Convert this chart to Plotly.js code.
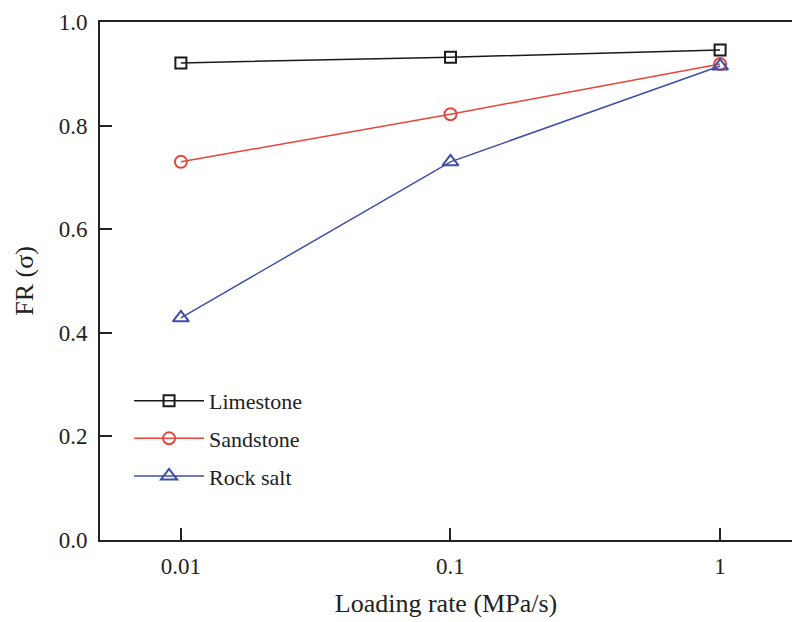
<!DOCTYPE html>
<html>
<head>
<meta charset="utf-8">
<script src="https://cdn.plot.ly/plotly-3.0.1.min.js"></script>
<style>html,body{margin:0;padding:0;background:#fff;}#chart{width:792px;height:622px;}</style>
</head>
<body>
<div id="chart"></div>
<script>
const loadingRate = [0.01, 0.1, 1];
const limestone = [0.921, 0.932, 0.946];
const sandstone = [0.730, 0.822, 0.919];
const rockSalt = [0.429, 0.730, 0.915];
const xTickVals = [0.01, 0.1, 1];
const xTickText = ['0.01', '0.1', '1'];
const yTickVals = [0.0, 0.2, 0.4, 0.6, 0.8, 1.0];
const yTickText = ['0.0', '0.2', '0.4', '0.6', '0.8', '1.0'];

const font = 'Liberation Serif, Times New Roman, serif';

const traces = [
  {x: loadingRate, y: limestone, name: 'Limestone', legendgroup: 'a', mode: 'lines+markers',
   line: {color: '#1a1a1a', width: 1.5},
   marker: {symbol: 'square-open', size: 11, color: '#1a1a1a', line: {width: 2}}},
  {x: loadingRate, y: sandstone, name: 'Sandstone', legendgroup: 'b', mode: 'lines+markers',
   line: {color: '#e8443a', width: 1.5},
   marker: {symbol: 'circle-open', size: 12, color: '#e8443a', line: {width: 2}}},
  {x: loadingRate, y: rockSalt, name: 'Rock salt', legendgroup: 'c', mode: 'lines+markers',
   line: {color: '#3d4fa8', width: 1.5},
   marker: {symbol: 'triangle-up-open', size: 14, color: '#3d4fa8', line: {width: 2}}}
];

const layout = {
  width: 792, height: 622,
  margin: {l: 100, r: 0, t: 22, b: 82},
  paper_bgcolor: '#fff', plot_bgcolor: '#fff',
  font: {family: font, color: '#222', size: 22},
  showlegend: true,
  legend: {x: 0.042, y: 0.309, xanchor: 'left', yanchor: 'top', bgcolor: 'rgba(0,0,0,0)',
           itemwidth: 70,
           font: {family: font, size: 22, color: '#222'}, tracegroupgap: 6},
  xaxis: {
    type: 'log', range: [-2.3, 0.2667],
    tickvals: xTickVals, ticktext: xTickText,
    ticks: 'inside', ticklen: 12, tickwidth: 2, tickcolor: '#222',
    showline: true, linewidth: 2, linecolor: '#222', mirror: true,
    showgrid: false, zeroline: false,
    ticklabelstandoff: 4,
    tickfont: {family: font, size: 23, color: '#222'},
    title: {text: 'Loading rate (MPa/s)', font: {family: font, size: 26, color: '#222'}, standoff: 16}
  },
  yaxis: {
    range: [0, 1.0],
    tickvals: yTickVals, ticktext: yTickText,
    ticks: 'inside', ticklen: 12, tickwidth: 2, tickcolor: '#222',
    showline: true, linewidth: 2, linecolor: '#222',
    showgrid: false, zeroline: false,
    ticklabelstandoff: 6,
    tickfont: {family: font, size: 23, color: '#222'},
    title: {text: 'FR (σ)', font: {family: font, size: 26, color: '#222'}, standoff: 18}
  }
};

Plotly.newPlot('chart', traces, layout, {displayModeBar: false, staticPlot: true});
</script>
</body>
</html>
